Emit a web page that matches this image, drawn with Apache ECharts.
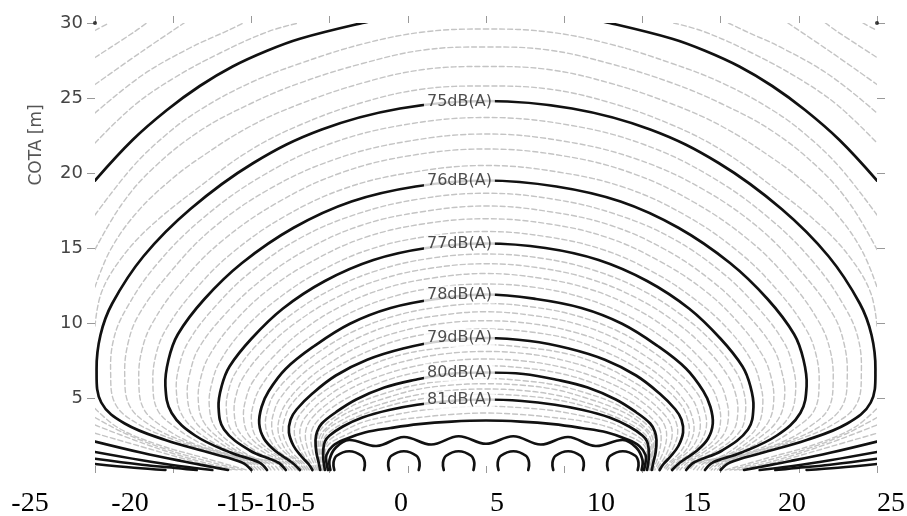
<!DOCTYPE html>
<html>
<head>
<meta charset="utf-8">
<script src="https://cdn.jsdelivr.net/npm/echarts@6/dist/echarts.min.js"></script>
<style>html,body{margin:0;padding:0;background:#fff;}#c{width:907px;height:516px;}</style>
</head>
<body>
<div id="c"></div>
<script>
// ---------- DATA ----------
const xTickLabels = ['-25', '-20', '-15-10-5', '0', '5', '10', '15', '20', '25'];
const yTickValues = [5, 10, 15, 20, 25, 30];
const labelTexts = ['75dB(A)', '76dB(A)', '77dB(A)', '78dB(A)', '79dB(A)', '80dB(A)', '81dB(A)'];
const labelHeights = [24.72, 19.45, 15.3, 11.9, 9.0, 6.7, 4.85];
const labelX = -1.7;
const cornerMarks = [[-25, 30], [25, 30]];

// bold contour lines, flat [x, y, x, y, ...]
const boldContours = [
  // 74 dB upper branches (leave the frame at the top)
  [-25,19.5, -22.6,22.2, -20.4,24.2, -18.3,25.8, -16.2,27.1, -14,28.15, -11.9,28.95, -7.9,30.0, -5.5,30.5],
  [5.5,30.5, 7.9,30.0, 11.9,28.95, 14,28.15, 16.2,27.1, 18.3,25.8, 20.4,24.2, 22.6,22.2, 25,19.5],
  // low branches along the ground
  [-25,2.1, -22,1.35, -19.5,0.8, -17.5,0.4, -16.5,0.2],
  [16.5,0.2, 17.5,0.4, 19.5,0.8, 22,1.35, 25,2.1],
  [-25,1.4, -22,0.85, -19.5,0.45, -17.5,0.2],
  [17.5,0.2, 19.5,0.45, 22,0.85, 25,1.4],
  [-25,0.95, -22,0.55, -19.5,0.3, -18.5,0.2],
  [18.5,0.2, 19.5,0.3, 22,0.55, 25,0.95],
  [-25,0.6, -22.5,0.35, -20.5,0.2],
  [20.5,0.2, 22.5,0.35, 25,0.6],
  // 75
  [-15.0,0.2, -15.6,0.7, -17.5,1.3, -20.5,2.2, -23.1,3.3, -24.6,4.7, -24.9,6.9, -24.65,9.2, -23.9,11.3, -21.9,14.45, -18.9,17.6, -14.9,20.65, -10.5,22.9, -5.5,24.3, 0,24.8,
   5.5,24.3, 10.5,22.9, 14.9,20.65, 18.9,17.6, 21.9,14.45, 23.9,11.3, 24.65,9.2, 24.9,6.9, 24.6,4.7, 23.1,3.3, 20.5,2.2, 17.5,1.3, 15.6,0.7, 15.0,0.2],
  // 76
  [-14.0,0.2, -14.5,0.7, -16.3,1.35, -18.6,2.5, -20.1,4.0, -20.5,5.8, -20.3,7.55, -19.7,9.25, -18.0,11.6, -15.6,14.0, -12.3,16.35, -8.6,18.1, -4.5,19.1, 0,19.5,
   4.5,19.1, 8.6,18.1, 12.3,16.35, 15.6,14.0, 18.0,11.6, 19.7,9.25, 20.3,7.55, 20.5,5.8, 20.1,4.0, 18.6,2.5, 16.3,1.35, 14.5,0.7, 14.0,0.2],
  // 77
  [-12.8,0.2, -13.3,0.7, -15.1,1.5, -16.75,2.9, -17.1,4.4, -16.9,5.8, -16.4,7.1, -15.0,8.95, -13.0,10.95, -10.3,12.8, -7.2,14.2, -3.8,15.0, 0,15.3,
   3.8,15.0, 7.2,14.2, 10.3,12.8, 13.0,10.95, 15.0,8.95, 16.4,7.1, 16.9,5.8, 17.1,4.4, 16.75,2.9, 15.1,1.5, 13.3,0.7, 12.8,0.2],
  // 78
  [-11.9,0.2, -12.4,0.7, -13.5,1.5, -14.2,2.3, -14.5,3.3, -14.35,4.4, -13.9,5.45, -12.8,6.95, -11.0,8.45, -8.7,9.95, -6.1,11.0, -3.2,11.6, 0,11.9,
   3.2,11.6, 6.1,11.0, 8.7,9.95, 11.0,8.45, 12.8,6.95, 13.9,5.45, 14.35,4.4, 14.5,3.3, 14.2,2.3, 13.5,1.5, 12.4,0.7, 11.9,0.2],
  // 79
  [-11.1,0.2, -11.35,0.6, -11.8,1.1, -12.3,1.8, -12.6,2.7, -12.5,3.55, -12.1,4.25, -11.1,5.3, -9.6,6.5, -7.6,7.55, -5.3,8.3, -2.8,8.8, 0,9.0,
   2.8,8.8, 5.3,8.3, 7.6,7.55, 9.6,6.5, 11.1,5.3, 12.1,4.25, 12.5,3.55, 12.6,2.7, 12.3,1.8, 11.8,1.1, 11.35,0.6, 11.1,0.2],
  // 80
  [-10.6,0.2, -10.7,0.7, -10.85,1.4, -10.9,2.2, -10.8,2.75, -10.5,3.3, -9.6,4.05, -8.3,4.9, -6.5,5.7, -4.6,6.2, -2.4,6.6, 0,6.7,
   2.4,6.6, 4.6,6.2, 6.5,5.7, 8.3,4.9, 9.6,4.05, 10.5,3.3, 10.8,2.75, 10.9,2.2, 10.85,1.4, 10.7,0.7, 10.6,0.2],
  // 81
  [-10.3,0.2, -10.4,0.9, -10.4,1.6, -10.3,2.1, -10.0,2.5, -9.15,3.1, -7.9,3.7, -6.2,4.2, -4.4,4.55, -2.3,4.8, 0,4.9,
   2.3,4.8, 4.4,4.55, 6.2,4.2, 7.9,3.7, 9.15,3.1, 10.0,2.5, 10.3,2.1, 10.4,1.6, 10.4,0.9, 10.3,0.2],
  // 82
  [-10.1,0.2, -10.2,0.7, -10.2,1.2, -9.8,1.8, -9.0,2.25, -7.75,2.7, -6.1,3.0, -4.3,3.26, -2.2,3.43, 0,3.5,
   2.2,3.43, 4.3,3.26, 6.1,3.0, 7.75,2.7, 9.0,2.25, 9.8,1.8, 10.2,1.2, 10.2,0.7, 10.1,0.2],
  // 83 (wavy over the sources)
  [-9.95,0.2, -10.0,0.9, -9.6,1.7, -8.75,2.2, -7.0,1.8, -5.25,2.4, -3.5,1.9, -1.75,2.45, 0,1.95,
   1.75,2.45, 3.5,1.9, 5.25,2.4, 7.0,1.8, 8.75,2.2, 9.6,1.7, 10.0,0.9, 9.95,0.2]
];

// small closed arcs around each source
const sourceArcs = [
  [-9.7,0.2, -9.75,0.7, -9.55,1.15, -8.75,1.45, -7.95,1.15, -7.75,0.7, -7.8,0.2],
  [-6.2,0.2, -6.25,0.7, -6.05,1.15, -5.25,1.45, -4.45,1.15, -4.25,0.7, -4.3,0.2],
  [-2.7,0.2, -2.75,0.7, -2.55,1.15, -1.75,1.45, -0.95,1.15, -0.75,0.7, -0.8,0.2],
  [0.8,0.2, 0.75,0.7, 0.95,1.15, 1.75,1.45, 2.55,1.15, 2.75,0.7, 2.7,0.2],
  [4.3,0.2, 4.25,0.7, 4.45,1.15, 5.25,1.45, 6.05,1.15, 6.25,0.7, 6.2,0.2],
  [7.8,0.2, 7.75,0.7, 7.95,1.15, 8.75,1.45, 9.55,1.15, 9.75,0.7, 9.7,0.2]
];

// thin grey intermediate contours
const grayContours = [
  // corners (73.x)
  [-25,29.5, -24.1,30], [24.1,30, 25,29.5],
  [-25,27.7, -22.5,29.4, -21.7,30], [21.7,30, 22.5,29.4, 25,27.7],
  [-25,25.9, -22,28.1, -19.3,30], [19.3,30, 22,28.1, 25,25.9],
  [-25,24.0, -22,26.5, -19,28.3, -16.5,29.5, -15.5,30], [15.5,30, 16.5,29.5, 19,28.3, 22,26.5, 25,24.0],
  [-25,22.0, -22.5,24.5, -20,26.3, -17,28.0, -14,29.4, -12,30], [12,30, 14,29.4, 17,28.0, 20,26.3, 22.5,24.5, 25,22.0],
  // 74.x upper
  [-25,17.2, -22.6,20.4, -20.4,22.6, -18.3,24.2, -15.1,26.0, -11.9,27.3, -7.9,28.6, -4,29.4, 0,29.6, 4,29.4, 7.9,28.6, 11.9,27.3, 15.1,26.0, 18.3,24.2, 20.4,22.6, 22.6,20.4, 25,17.2],
  [-25,14.9, -23.3,17.9, -21.3,20.3, -18.3,22.8, -15.1,24.6, -11.9,26.0, -7.9,27.3, -4,28.2, 0,28.4, 4,28.2, 7.9,27.3, 11.9,26.0, 15.1,24.6, 18.3,22.8, 21.3,20.3, 23.3,17.9, 25,14.9],
  [-25,12.4, -24.0,14.9, -22.3,17.4, -20.2,19.5, -18.3,21.0, -15.1,23.1, -11.9,24.6, -7.9,26.0, -4,26.9, 0,27.1, 4,26.9, 7.9,26.0, 11.9,24.6, 15.1,23.1, 18.3,21.0, 20.2,19.5, 22.3,17.4, 24.0,14.9, 25,12.4],
  [-25,9.8, -24.6,12.0, -23.4,14.2, -21.5,16.4, -18.3,19.1, -15.1,21.5, -11.9,23.2, -7.9,24.7, -4,25.6, 0,25.8, 4,25.6, 7.9,24.7, 11.9,23.2, 15.1,21.5, 18.3,19.1, 21.5,16.4, 23.4,14.2, 24.6,12.0, 25,9.8],
  // 74.x lower
  [-25,2.65, -22,1.75, -19.5,1.0, -17.5,0.45, -16.2,0.2], [16.2,0.2, 17.5,0.45, 19.5,1.0, 22,1.75, 25,2.65],
  [-25,3.2, -22.5,2.2, -20,1.3, -17.5,0.55, -15.9,0.2], [15.9,0.2, 17.5,0.55, 20,1.3, 22.5,2.2, 25,3.2],
  [-25,3.7, -23,2.6, -20.5,1.6, -17.5,0.7, -15.6,0.2], [15.6,0.2, 17.5,0.7, 20.5,1.6, 23,2.6, 25,3.7],
  [-25,4.3, -23.5,3.0, -21,1.9, -18,1.0, -15.3,0.2], [15.3,0.2, 18,1.0, 21,1.9, 23.5,3.0, 25,4.3],
  // 75.x
  [-14.8,0.2, -15.4,0.7, -17.2,1.3, -19.9,2.2, -22.3,3.3, -23.7,4.6, -24.0,6.7, -23.8,8.95, -23.0,10.95, -21.1,13.85, -18.2,16.9, -14.4,19.75, -10.1,21.9, -5.3,23.2, 0,23.7,
   5.3,23.2, 10.1,21.9, 14.4,19.75, 18.2,16.9, 21.1,13.85, 23.0,10.95, 23.8,8.95, 24.0,6.7, 23.7,4.6, 22.3,3.3, 19.9,2.2, 17.2,1.3, 15.4,0.7, 14.8,0.2],
  [-14.6,0.2, -15.2,0.7, -16.9,1.3, -19.3,2.1, -21.5,3.2, -22.8,4.5, -23.1,6.5, -22.9,8.6, -22.2,10.55, -20.3,13.25, -17.6,16.2, -13.9,18.9, -9.7,20.9, -5.1,22.1, 0,22.6,
   5.1,22.1, 9.7,20.9, 13.9,18.9, 17.6,16.2, 20.3,13.25, 22.2,10.55, 22.9,8.6, 23.1,6.5, 22.8,4.5, 21.5,3.2, 19.3,2.1, 16.9,1.3, 15.2,0.7, 14.6,0.2],
  [-14.4,0.2, -15.0,0.7, -16.6,1.25, -18.8,2.0, -20.7,3.1, -21.9,4.3, -22.2,6.2, -22.0,8.2, -21.3,10.05, -19.5,12.7, -16.9,15.45, -13.3,18.05, -9.3,20.0, -4.9,21.15, 0,21.6,
   4.9,21.15, 9.3,20.0, 13.3,18.05, 16.9,15.45, 19.5,12.7, 21.3,10.05, 22.0,8.2, 22.2,6.2, 21.9,4.3, 20.7,3.1, 18.8,2.0, 16.6,1.25, 15.0,0.7, 14.4,0.2],
  [-14.2,0.2, -14.8,0.7, -16.3,1.2, -18.1,1.9, -19.8,3.0, -21.0,4.2, -21.3,6.0, -21.1,7.9, -20.45,9.6, -18.7,12.1, -16.2,14.7, -12.8,17.15, -8.95,19.0, -4.7,20.05, 0,20.5,
   4.7,20.05, 8.95,19.0, 12.8,17.15, 16.2,14.7, 18.7,12.1, 20.45,9.6, 21.1,7.9, 21.3,6.0, 21.0,4.2, 19.8,3.0, 18.1,1.9, 16.3,1.2, 14.8,0.7, 14.2,0.2],
  // 76.x
  [-13.75,0.2, -14.2,0.7, -16.0,1.3, -18.0,2.4, -19.4,3.8, -19.8,5.5, -19.6,7.2, -19.0,8.8, -17.4,11.0, -15.05,13.4, -11.9,15.65, -8.3,17.25, -4.35,18.25, 0,18.65,
   4.35,18.25, 8.3,17.25, 11.9,15.65, 15.05,13.4, 17.4,11.0, 19.0,8.8, 19.6,7.2, 19.8,5.5, 19.4,3.8, 18.0,2.4, 16.0,1.3, 14.2,0.7, 13.75,0.2],
  [-13.5,0.2, -14.0,0.7, -15.6,1.2, -17.4,2.3, -18.7,3.6, -19.1,5.2, -18.9,6.8, -18.35,8.35, -16.8,10.45, -14.5,12.75, -11.45,14.9, -8.0,16.5, -4.2,17.4, 0,17.8,
   4.2,17.4, 8.0,16.5, 11.45,14.9, 14.5,12.75, 16.8,10.45, 18.35,8.35, 18.9,6.8, 19.1,5.2, 18.7,3.6, 17.4,2.3, 15.6,1.2, 14.0,0.7, 13.5,0.2],
  [-13.25,0.2, -13.75,0.7, -15.3,1.15, -16.8,2.1, -18.05,3.4, -18.4,4.9, -18.2,6.5, -17.65,7.9, -16.2,9.95, -14.0,12.15, -11.05,14.15, -7.75,15.7, -4.05,16.6, 0,16.95,
   4.05,16.6, 7.75,15.7, 11.05,14.15, 14.0,12.15, 16.2,9.95, 17.65,7.9, 18.2,6.5, 18.4,4.9, 18.05,3.4, 16.8,2.1, 15.3,1.15, 13.75,0.7, 13.25,0.2],
  [-13.0,0.2, -13.5,0.7, -14.9,1.05, -16.2,1.9, -17.35,3.1, -17.7,4.6, -17.5,6.1, -17.0,7.45, -15.6,9.45, -13.45,11.5, -10.6,13.45, -7.45,14.9, -3.9,15.75, 0,16.1,
   3.9,15.75, 7.45,14.9, 10.6,13.45, 13.45,11.5, 15.6,9.45, 17.0,7.45, 17.5,6.1, 17.7,4.6, 17.35,3.1, 16.2,1.9, 14.9,1.05, 13.5,0.7, 13.0,0.2],
  // 77.x
  [-12.6,0.2, -13.1,0.7, -14.7,1.45, -16.25,2.8, -16.6,4.2, -16.45,5.55, -15.95,6.8, -14.6,8.6, -12.6,10.45, -9.95,12.2, -6.95,13.5, -3.65,14.3, 0,14.6,
   3.65,14.3, 6.95,13.5, 9.95,12.2, 12.6,10.45, 14.6,8.6, 15.95,6.8, 16.45,5.55, 16.6,4.2, 16.25,2.8, 14.7,1.45, 13.1,0.7, 12.6,0.2],
  [-12.4,0.2, -12.9,0.7, -14.4,1.5, -15.75,2.7, -16.1,4.0, -15.95,5.3, -15.45,6.5, -14.15,8.2, -12.25,9.95, -9.65,11.65, -6.75,12.9, -3.55,13.65, 0,13.95,
   3.55,13.65, 6.75,12.9, 9.65,11.65, 12.25,9.95, 14.15,8.2, 15.45,6.5, 15.95,5.3, 16.1,4.0, 15.75,2.7, 14.4,1.5, 12.9,0.7, 12.4,0.2],
  [-12.2,0.2, -12.7,0.7, -14.0,1.45, -15.15,2.5, -15.5,3.7, -15.35,4.95, -14.9,6.1, -13.65,7.7, -11.8,9.45, -9.3,11.1, -6.5,12.3, -3.4,13.0, 0,13.3,
   3.4,13.0, 6.5,12.3, 9.3,11.1, 11.8,9.45, 13.65,7.7, 14.9,6.1, 15.35,4.95, 15.5,3.7, 15.15,2.5, 14.0,1.45, 12.7,0.7, 12.2,0.2],
  [-12.05,0.2, -12.55,0.7, -13.8,1.5, -14.7,2.4, -15.0,3.5, -14.85,4.65, -14.4,5.75, -13.2,7.35, -11.4,8.95, -9.0,10.5, -6.3,11.65, -3.3,12.35, 0,12.6,
   3.3,12.35, 6.3,11.65, 9.0,10.5, 11.4,8.95, 13.2,7.35, 14.4,5.75, 14.85,4.65, 15.0,3.5, 14.7,2.4, 13.8,1.5, 12.55,0.7, 12.05,0.2],
  // 78.x
  [-11.75,0.2, -12.2,0.7, -13.2,1.4, -13.8,2.2, -14.1,3.2, -13.95,4.25, -13.55,5.25, -12.4,6.6, -10.7,8.05, -8.45,9.45, -5.9,10.45, -3.1,11.05, 0,11.3,
   3.1,11.05, 5.9,10.45, 8.45,9.45, 10.7,8.05, 12.4,6.6, 13.55,5.25, 13.95,4.25, 14.1,3.2, 13.8,2.2, 13.2,1.4, 12.2,0.7, 11.75,0.2],
  [-11.6,0.2, -12.0,0.7, -12.9,1.4, -13.45,2.15, -13.7,3.1, -13.55,4.1, -13.15,5.0, -12.05,6.3, -10.4,7.65, -8.2,9.0, -5.75,9.95, -3.0,10.5, 0,10.75,
   3.0,10.5, 5.75,9.95, 8.2,9.0, 10.4,7.65, 12.05,6.3, 13.15,5.0, 13.55,4.1, 13.7,3.1, 13.45,2.15, 12.9,1.4, 12.0,0.7, 11.6,0.2],
  [-11.45,0.2, -11.85,0.7, -12.6,1.3, -13.05,2.0, -13.3,2.9, -13.15,3.85, -12.75,4.7, -11.7,5.95, -10.1,7.25, -8.0,8.5, -5.6,9.4, -2.95,9.95, 0,10.15,
   2.95,9.95, 5.6,9.4, 8.0,8.5, 10.1,7.25, 11.7,5.95, 12.75,4.7, 13.15,3.85, 13.3,2.9, 13.05,2.0, 12.6,1.3, 11.85,0.7, 11.45,0.2],
  [-11.3,0.2, -11.65,0.65, -12.3,1.25, -12.75,1.95, -13.0,2.8, -12.85,3.7, -12.5,4.5, -11.45,5.65, -9.9,6.85, -7.8,8.0, -5.45,8.9, -2.85,9.4, 0,9.6,
   2.85,9.4, 5.45,8.9, 7.8,8.0, 9.9,6.85, 11.45,5.65, 12.5,4.5, 12.85,3.7, 13.0,2.8, 12.75,1.95, 12.3,1.25, 11.65,0.65, 11.3,0.2],
  // 79.x
  [-11.0,0.2, -11.25,0.6, -11.6,1.05, -12.0,1.75, -12.25,2.6, -12.15,3.4, -11.75,4.1, -10.8,5.1, -9.3,6.15, -7.35,7.2, -5.15,7.95, -2.7,8.35, 0,8.55,
   2.7,8.35, 5.15,7.95, 7.35,7.2, 9.3,6.15, 10.8,5.1, 11.75,4.1, 12.15,3.4, 12.25,2.6, 12.0,1.75, 11.6,1.05, 11.25,0.6, 11.0,0.2],
  [-10.9,0.2, -11.1,0.55, -11.4,1.0, -11.7,1.7, -11.9,2.5, -11.8,3.25, -11.4,3.9, -10.45,4.85, -9.05,5.85, -7.15,6.8, -5.0,7.5, -2.6,7.95, 0,8.1,
   2.6,7.95, 5.0,7.5, 7.15,6.8, 9.05,5.85, 10.45,4.85, 11.4,3.9, 11.8,3.25, 11.9,2.5, 11.7,1.7, 11.4,1.0, 11.1,0.55, 10.9,0.2],
  [-10.8,0.2, -10.95,0.55, -11.15,0.95, -11.4,1.6, -11.55,2.4, -11.45,3.1, -11.1,3.7, -10.15,4.6, -8.8,5.55, -6.95,6.4, -4.85,7.05, -2.55,7.45, 0,7.6,
   2.55,7.45, 4.85,7.05, 6.95,6.4, 8.8,5.55, 10.15,4.6, 11.1,3.7, 11.45,3.1, 11.55,2.4, 11.4,1.6, 11.15,0.95, 10.95,0.55, 10.8,0.2],
  [-10.7,0.2, -10.8,0.5, -10.95,0.9, -11.1,1.5, -11.2,2.3, -11.1,2.95, -10.75,3.5, -9.85,4.35, -8.5,5.2, -6.7,6.05, -4.7,6.65, -2.45,7.0, 0,7.15,
   2.45,7.0, 4.7,6.65, 6.7,6.05, 8.5,5.2, 9.85,4.35, 10.75,3.5, 11.1,2.95, 11.2,2.3, 11.1,1.5, 10.95,0.9, 10.8,0.5, 10.7,0.2],
  // 80.x
  [-10.55,0.2, -10.65,0.7, -10.75,1.35, -10.8,2.1, -10.7,2.65, -10.35,3.15, -9.5,3.85, -8.2,4.65, -6.5,5.3, -4.55,5.85, -2.4,6.15, 0,6.3,
   2.4,6.15, 4.55,5.85, 6.5,5.3, 8.2,4.65, 9.5,3.85, 10.35,3.15, 10.7,2.65, 10.8,2.1, 10.75,1.35, 10.65,0.7, 10.55,0.2],
  [-10.5,0.2, -10.6,0.7, -10.65,1.3, -10.7,2.0, -10.6,2.5, -10.25,2.95, -9.4,3.7, -8.15,4.35, -6.4,5.0, -4.5,5.55, -2.35,5.85, 0,5.95,
   2.35,5.85, 4.5,5.55, 6.4,5.0, 8.15,4.35, 9.4,3.7, 10.25,2.95, 10.6,2.5, 10.7,2.0, 10.65,1.3, 10.6,0.7, 10.5,0.2],
  [-10.45,0.2, -10.55,0.7, -10.6,1.2, -10.6,1.9, -10.5,2.35, -10.2,2.85, -9.35,3.45, -8.05,4.1, -6.35,4.7, -4.45,5.2, -2.35,5.5, 0,5.6,
   2.35,5.5, 4.45,5.2, 6.35,4.7, 8.05,4.1, 9.35,3.45, 10.2,2.85, 10.5,2.35, 10.6,1.9, 10.6,1.2, 10.55,0.7, 10.45,0.2],
  [-10.4,0.2, -10.45,0.6, -10.5,1.1, -10.5,1.75, -10.4,2.2, -10.1,2.65, -9.25,3.25, -8.0,3.85, -6.3,4.45, -4.4,4.9, -2.3,5.15, 0,5.25,
   2.3,5.15, 4.4,4.9, 6.3,4.45, 8.0,3.85, 9.25,3.25, 10.1,2.65, 10.4,2.2, 10.5,1.75, 10.5,1.1, 10.45,0.6, 10.4,0.2],
  // 81.x
  [-10.25,0.2, -10.35,0.85, -10.35,1.45, -10.25,1.85, -9.95,2.25, -9.1,2.8, -7.85,3.4, -6.2,3.8, -4.35,4.15, -2.3,4.35, 0,4.45,
   2.3,4.35, 4.35,4.15, 6.2,3.8, 7.85,3.4, 9.1,2.8, 9.95,2.25, 10.25,1.85, 10.35,1.45, 10.35,0.85, 10.25,0.2],
  [-10.2,0.2, -10.3,0.8, -10.3,1.3, -10.2,1.7, -9.9,2.05, -9.05,2.5, -7.85,3.05, -6.2,3.45, -4.3,3.7, -2.25,3.9, 0,4.0,
   2.25,3.9, 4.3,3.7, 6.2,3.45, 7.85,3.05, 9.05,2.5, 9.9,2.05, 10.2,1.7, 10.3,1.3, 10.3,0.8, 10.2,0.2]
];

// ---------- LAYOUT (not data) ----------
const bottomLabelCenters = [30, 130, 266, 401, 497, 601, 697, 792, 891];

// one custom series per family; each data item = [first x, first y, curve index]
function curveSeries(list, stroke, width, dash, z) {
  return {
    type: 'custom', coordinateSystem: 'cartesian2d', clip: true, silent: true, z: z,
    encode: { x: 0, y: 1 },
    data: list.map(function (c, i) { return [c[0], c[1], i]; }),
    renderItem: function (params, api) {
      const flat = list[api.value(2)];
      const pts = [];
      for (let k = 0; k < flat.length; k += 2) pts.push(api.coord([flat[k], flat[k + 1]]));
      return {
        type: 'polyline',
        shape: { points: pts, smooth: 0.38 },
        style: { fill: null, stroke: stroke, lineWidth: width, lineDash: dash, lineCap: 'round', lineJoin: 'round' }
      };
    }
  };
}

const series = [
  curveSeries(grayContours, '#c4c4c4', 1.4, [5, 3], 1),
  curveSeries(boldContours, '#111', 2.7, null, 3),
  curveSeries(sourceArcs, '#111', 2.7, null, 3),
  {
    type: 'scatter', z: 6, symbolSize: 2, silent: true,
    itemStyle: { color: 'rgba(255,255,255,0)' },
    data: labelHeights.map(function (h, i) { return { value: [labelX, h], name: labelTexts[i] }; }),
    label: {
      show: true, position: 'inside', formatter: function (p) { return p.name; },
      color: '#222', fontSize: 16, fontFamily: 'DejaVu Sans',
      backgroundColor: '#fff', padding: [1, 3]
    }
  },
  {
    type: 'scatter', z: 5, symbolSize: 4, itemStyle: { color: '#111' }, silent: true,
    data: cornerMarks
  }
];

const tickStyle = { color: '#999', width: 1 };
const option = {
  animation: false,
  backgroundColor: '#fff',
  grid: { left: 95, right: 30, top: 23, bottom: 43 },
  xAxis: [
    { type: 'value', position: 'bottom', min: -25, max: 25, interval: 5,
      axisLine: { show: false, onZero: false }, splitLine: { show: false }, axisLabel: { show: false },
      axisTick: { show: true, inside: true, length: 7, lineStyle: tickStyle } },
    { type: 'value', position: 'top', min: -25, max: 25, interval: 5,
      axisLine: { show: false, onZero: false }, splitLine: { show: false }, axisLabel: { show: false },
      axisTick: { show: true, inside: false, length: 7, lineStyle: tickStyle } }
  ],
  yAxis: [
    { type: 'value', position: 'left', min: 0, max: 30, interval: 5,
      axisLine: { show: false, onZero: false }, splitLine: { show: false },
      axisTick: { show: true, length: 8, lineStyle: tickStyle, customValues: yTickValues },
      axisLabel: { color: '#444', fontSize: 18, fontFamily: 'DejaVu Sans', margin: 12, customValues: yTickValues } },
    { type: 'value', position: 'right', min: 0, max: 30, interval: 5,
      axisLine: { show: false, onZero: false }, splitLine: { show: false }, axisLabel: { show: false },
      axisTick: { show: true, length: 8, lineStyle: tickStyle, customValues: yTickValues } }
  ],
  graphic: [
    { type: 'text', x: 37, y: 145, rotation: Math.PI / 2,
      style: { text: 'COTA [m]', font: '17px "DejaVu Sans"', fill: '#555', textAlign: 'center', textVerticalAlign: 'middle' } }
  ].concat(xTickLabels.map(function (t, i) {
    return { type: 'text', x: bottomLabelCenters[i], y: 504,
      style: { text: t, font: '28px "Liberation Serif"', fill: '#000', textAlign: 'center', textVerticalAlign: 'middle' } };
  })),
  series: series
};

const chart = echarts.init(document.getElementById('c'), null, { renderer: 'canvas' });
chart.setOption(option);
</script>
</body>
</html>
